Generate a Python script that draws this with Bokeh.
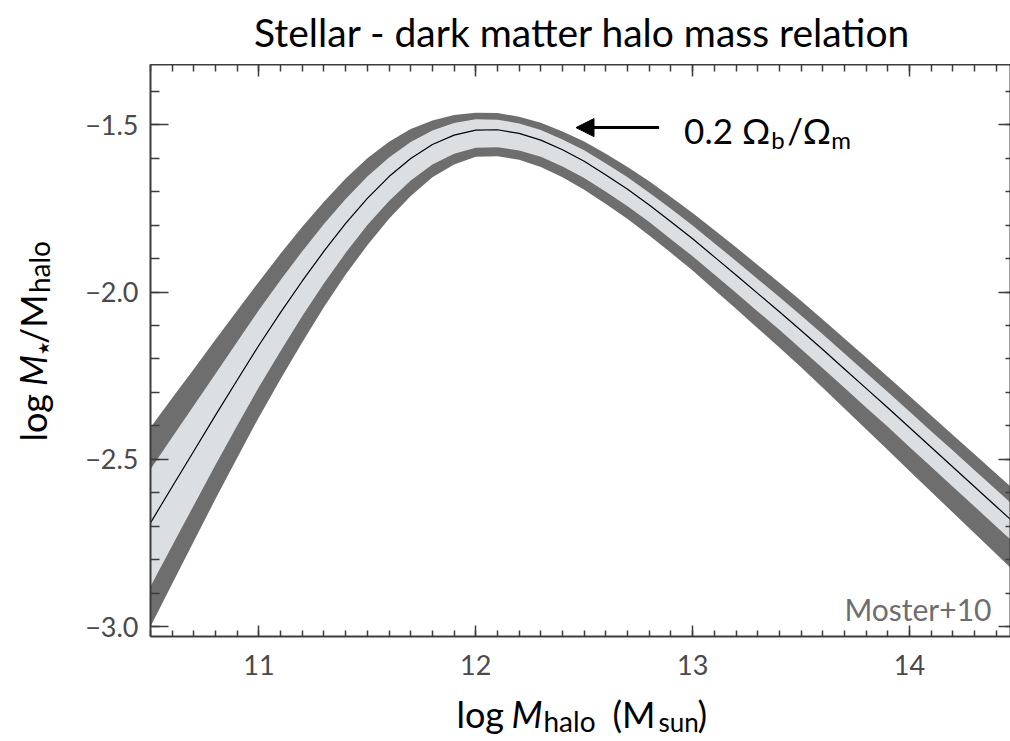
import numpy as np
from bokeh.plotting import figure
from bokeh.layouts import column, row
from bokeh.models import (Range1d, LinearAxis, FixedTicker, CustomJSTickFormatter,
                          Label, Arrow, NormalHead, ColumnDataSource)
from bokeh.embed import file_html
from bokeh.resources import INLINE

# ---------------- data ----------------
log_mhalo = [10.5, 10.6, 10.7, 10.8, 10.9, 11.0, 11.1, 11.2, 11.3, 11.4,
             11.5, 11.6, 11.7, 11.8, 11.9, 12.0, 12.1, 12.2, 12.3, 12.4,
             12.5, 12.6, 12.7, 12.8, 12.9, 13.0, 13.1, 13.2, 13.3, 13.4,
             13.5, 13.6, 13.7, 13.8, 13.9, 14.0, 14.1, 14.2, 14.3, 14.4, 14.5]
ratio_center = [-2.690, -2.582, -2.475, -2.368, -2.263, -2.159, -2.061, -1.967, -1.878, -1.795,
                -1.720, -1.655, -1.601, -1.559, -1.531, -1.516, -1.515, -1.526, -1.546, -1.575,
                -1.609, -1.650, -1.693, -1.740, -1.790, -1.841, -1.895, -1.949, -2.004, -2.059,
                -2.115, -2.172, -2.230, -2.288, -2.346, -2.405, -2.464, -2.523, -2.582, -2.641, -2.700]
# inner (light) band: distance above / below the central relation
light_up = [.160, .148, .136, .124, .114, .105, .097, .089, .081, .073,
            .065, .057, .049, .042, .036, .032, .030, .030, .030, .031,
            .033, .034, .036, .037, .039, .040, .041, .042, .043, .044,
            .045, .046, .046, .047, .047, .048, .048, .049, .049, .050, .050]
light_down = [.190, .176, .162, .148, .136, .125, .115, .105, .096, .088,
              .080, .073, .066, .060, .056, .053, .052, .051, .050, .050,
              .050, .050, .051, .051, .052, .052, .053, .053, .054, .054,
              .055, .056, .056, .057, .057, .058, .058, .059, .059, .060, .060]
# outer (dark) band
dark_up = [.285, .265, .245, .226, .208, .190, .176, .162, .148, .134,
           .120, .104, .088, .072, .060, .052, .050, .050, .052, .055,
           .059, .063, .067, .071, .074, .077, .080, .083, .085, .087,
           .089, .090, .091, .092, .093, .094, .095, .096, .097, .098, .099]
dark_down = [.310, .290, .270, .250, .232, .215, .199, .183, .167, .153,
             .140, .126, .112, .098, .088, .080, .079, .079, .080, .082,
             .085, .087, .089, .091, .093, .095, .098, .101, .104, .107,
             .110, .114, .118, .122, .126, .130, .133, .136, .139, .142, .145]

x_ticks = [11, 12, 13, 14]
y_ticks = [-3.0, -2.5, -2.0, -1.5]

title_text = "Stellar - dark matter halo mass relation"
credit_text = "Moster+10"

FONT = "Lato"
BASE_K = 0.4          # Label baseline correction (fraction of font size)

# ---------------- geometry ----------------
W, H = 1010, 741
TOP_H = 64
LEFT_W = 60
BOT_H = 49
MAIN_W = W - LEFT_W
MAIN_H = H - TOP_H - BOT_H
FL, FT, FB = 150, 64, 636
PX_X = 216.6
PX_Y = 334.0
X0 = 10.5
Y_TOP = -1.32
X1 = X0 + (W - FL - 1) / PX_X
Y_BOT = Y_TOP - (FB - FT - 1) / PX_Y


def X(px):
    return X0 + (px - FL) / PX_X


def Y(py):
    return Y_TOP - (py - FT) / PX_Y


def text_fig(w, h):
    f = figure(width=w, height=h, output_backend="svg", toolbar_location=None,
               x_range=Range1d(0, w), y_range=Range1d(h, 0),
               min_border_left=0, min_border_right=0, min_border_top=0, min_border_bottom=0,
               x_axis_location=None, y_axis_location=None)
    f.outline_line_color = None
    f.xgrid.visible = False
    f.ygrid.visible = False
    f.background_fill_color = "white"
    f.border_fill_color = "white"
    return f


def put(f, text, x, y, size, color="black", style_="normal", align="left",
        angle=0.0, font=FONT):
    f.add_layout(Label(x=x, y=y, text=text, text_font=font,
                       text_font_size=f"{size}px", text_color=color,
                       text_font_style=style_, text_align=align,
                       text_baseline="alphabetic", angle=angle))


def put_main(text, px, base_py, size, **kw):
    put(p, text, X(px), Y(base_py - BASE_K * size), size, **kw)


# ---------------- main chart ----------------
c = np.array(ratio_center)
src = ColumnDataSource(dict(
    x=log_mhalo, c=ratio_center,
    lhi=c + np.array(light_up), llo=c - np.array(light_down),
    dhi=c + np.array(dark_up), dlo=c - np.array(dark_down)))

p = figure(width=MAIN_W, height=MAIN_H, output_backend="svg", toolbar_location=None,
           x_range=Range1d(X0, X1), y_range=Range1d(Y_BOT, Y_TOP),
           min_border_left=FL - LEFT_W, min_border_top=0,
           min_border_bottom=TOP_H + MAIN_H - FB, min_border_right=0,
           x_axis_location=None, y_axis_location=None)
p.outline_line_color = None
p.xgrid.visible = False
p.ygrid.visible = False
p.background_fill_color = "white"
p.border_fill_color = "white"

p.varea(x="x", y1="dlo", y2="dhi", source=src, fill_color="#6e6e6e")
p.varea(x="x", y1="llo", y2="lhi", source=src, fill_color="#dcdfe2")
p.line(x="x", y="c", source=src, line_color="black", line_width=1.2)

AX_COL = "#3c3c3c"
minor_x = [round(10.5 + 0.1 * i, 2) for i in range(41)]
minor_y = [round(-3.0 + 0.1 * i, 2) for i in range(18)]
xt = FixedTicker(ticks=x_ticks, minor_ticks=minor_x)
yt = FixedTicker(ticks=y_ticks, minor_ticks=minor_y)
yfmt = CustomJSTickFormatter(code="return (tick < 0 ? '\u2212' : '') + Math.abs(tick).toFixed(1);")
blank = CustomJSTickFormatter(code="return '';")


def style(ax, maj, mnr, labels=True, standoff=10):
    ax.axis_line_color = AX_COL
    ax.axis_line_width = 2
    ax.major_tick_line_color = AX_COL
    ax.minor_tick_line_color = AX_COL
    ax.major_tick_line_width = 1.5
    ax.minor_tick_line_width = 1.5
    ax.major_tick_in = maj
    ax.major_tick_out = 0
    ax.minor_tick_in = mnr
    ax.minor_tick_out = 0
    if labels:
        ax.major_label_text_font = FONT
        ax.major_label_text_font_size = "27px"
        ax.major_label_text_color = "#4a4a4a"
        ax.major_label_standoff = standoff
    else:
        ax.formatter = blank
        ax.major_label_text_font_size = "1px"
        ax.major_label_text_color = None
        ax.major_label_standoff = 0


bottom = LinearAxis(ticker=xt)
style(bottom, 11, 6, True, 18)
left = LinearAxis(ticker=yt, formatter=yfmt)
style(left, 18, 9, True, 12)
top = LinearAxis(ticker=xt)
style(top, 12, 7, False)
right = LinearAxis(ticker=yt)
style(right, 12, 5, False)
p.add_layout(bottom, "below")
p.add_layout(left, "left")
p.add_layout(top, "above")
p.add_layout(right, "right")

# annotation inside the frame: arrow and 0.2 Omega_b / Omega_m
p.add_layout(Arrow(end=NormalHead(size=18, fill_color="black", line_color="black"),
                   x_start=X(658), y_start=Y(127), x_end=X(575), y_end=Y(127),
                   line_width=3, line_color="black"))
put_main("0.2 \u03a9", 683, 143, 35)
put_main("b", 770, 148, 24)
put_main("/\u03a9", 786, 143, 35)
put_main("m", 830, 148, 24)
put_main(credit_text, 990, 620, 30, color="#6e6e6e", align="right")

# ---------------- title strip ----------------
t_fig = text_fig(W, TOP_H)
put(t_fig, title_text, 582, 47 - BASE_K * 39, 39, align="center")

# ---------------- y-label strip (coordinates relative to the strip) ----------------
l_fig = text_fig(LEFT_W, MAIN_H)
r = np.pi / 2
oy = TOP_H - 30       # rotated-label offset found on an earlier render


def put_rot(text, base_x, start_py, size, **kw):
    put(l_fig, text, base_x - BASE_K * size, start_py - oy, size, angle=r, **kw)


put_rot("log", 47, 448, 36)
put_rot("M", 47, 387, 36, style_="italic")
put_rot("\u2605", 49, 353, 15, font="DejaVu Sans")
put_rot("/M", 47, 341, 36)
put_rot("halo", 50, 285, 28)

# ---------------- x-label strip ----------------
b_fig = text_fig(W, BOT_H)
ob = TOP_H + MAIN_H


def put_bot(text, px, base_py, size, **kw):
    put(b_fig, text, px, base_py - ob - BASE_K * size, size, **kw)


put_bot("log", 456, 728, 36)
put_bot("M", 511, 728, 36, style_="italic")
put_bot("halo", 543, 732, 28)
put_bot("(M", 612, 728, 36)
put_bot("sun", 658, 732, 26)
put_bot(")", 697, 728, 36)

layout = column(t_fig, row(l_fig, p), b_fig)
open("out.html", "w").write(file_html(layout, INLINE))
